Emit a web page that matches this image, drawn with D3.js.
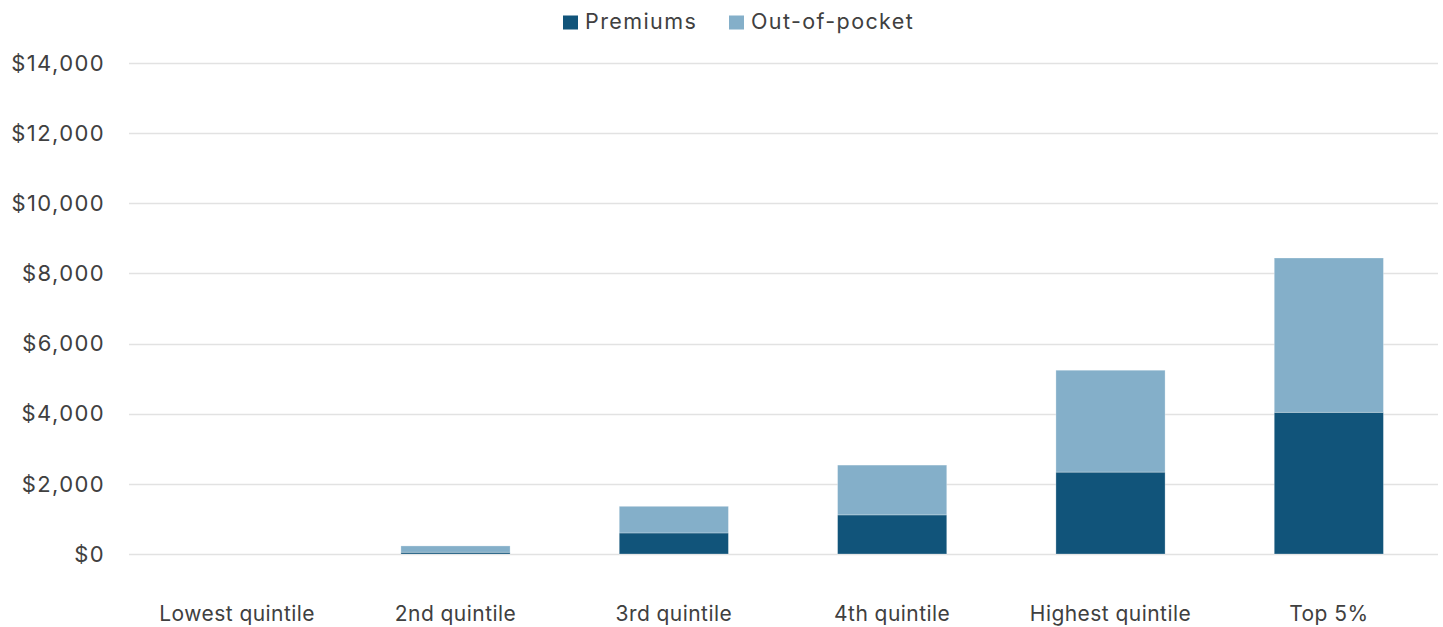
<!DOCTYPE html>
<html>
<head>
<meta charset="utf-8">
<script src="https://cdn.jsdelivr.net/npm/d3@7"></script>
<style>
    body { margin: 0; background: #fff; }
    text { font-family: Inter, "Liberation Sans", sans-serif; fill: #404040; }
</style>
</head>
<body>
<script>
// Chart data
var categories = ["Lowest quintile", "2nd quintile", "3rd quintile", "4th quintile", "Highest quintile", "Top 5%"];
var premiums = [0, 50, 600, 1115, 2335, 4040];
var outOfPocket = [0, 180, 760, 1420, 2905, 4400];
var yTicks = [0, 2000, 4000, 6000, 8000, 10000, 12000, 14000];
var seriesNames = ["Premiums", "Out-of-pocket"];
var seriesColors = ["#11547a", "#84afc9"];

var width = 1443;
var height = 627;
var margin = { top: 63, right: 5, bottom: 73, left: 128 };

var svg = d3.select("body")
    .append("svg")
    .attr("width", width)
    .attr("height", height);

// Scales
var x = d3.scaleBand()
    .domain(categories)
    .range([margin.left, width - margin.right])
    .paddingInner(0.5)
    .paddingOuter(0.25);

var y = d3.scaleLinear()
    .domain([0, 14000])
    .range([height - margin.bottom, margin.top]);

// Gridlines
svg.append("g")
    .selectAll("line")
    .data(yTicks)
    .enter()
    .append("line")
    .attr("x1", margin.left + 1)
    .attr("x2", width - margin.right)
    .attr("y1", function (d) { return Math.round(y(d)) + 0.5; })
    .attr("y2", function (d) { return Math.round(y(d)) + 0.5; })
    .attr("stroke", "#e2e2e2")
    .attr("stroke-width", 1.5);

// Y axis labels
var yAxis = d3.axisLeft(y)
    .tickValues(yTicks)
    .tickSize(0)
    .tickPadding(0)
    .tickFormat(function (d) { return "$" + d3.format(",")(d); });

svg.append("g")
    .attr("transform", "translate(105,0)")
    .call(yAxis)
    .call(function (g) { g.select(".domain").remove(); })
    .selectAll("text")
    .style("font-size", "22px")
    .style("letter-spacing", "1.4px")
    .attr("dy", "0.33em");

// X axis labels
var xAxis = d3.axisBottom(x).tickSize(0).tickPadding(0);
svg.append("g")
    .attr("transform", "translate(0,621)")
    .call(xAxis)
    .call(function (g) { g.select(".domain").remove(); })
    .selectAll("text")
    .attr("dy", 0)
    .style("font-size", "21px")
    .style("letter-spacing", "0.45px");

// Stacked bars
var rows = categories.map(function (c, i) {
    return { category: c, Premiums: premiums[i], "Out-of-pocket": outOfPocket[i] };
});
var stack = d3.stack().keys(seriesNames)(rows);

svg.append("g")
    .selectAll("g")
    .data(stack)
    .enter()
    .append("g")
    .attr("fill", function (d, i) { return seriesColors[i]; })
    .selectAll("rect")
    .data(function (d) { return d; })
    .enter()
    .append("rect")
    .attr("x", function (d) { return x(d.data.category); })
    .attr("width", x.bandwidth())
    .attr("y", function (d) { return y(d[1]); })
    .attr("height", function (d) { return y(d[0]) - y(d[1]); })
    .attr("stroke", "#ffffff")
    .attr("stroke-opacity", 0.35)
    .attr("stroke-width", 0.8);

// Legend
var legendItems = [
    { name: seriesNames[0], color: seriesColors[0], x: 563 },
    { name: seriesNames[1], color: seriesColors[1], x: 729 }
];
var legend = svg.append("g");
legendItems.forEach(function (item) {
    legend.append("rect")
        .attr("x", item.x)
        .attr("y", 15.5)
        .attr("width", 15)
        .attr("height", 14)
        .attr("fill", item.color);
    legend.append("text")
        .attr("x", item.x + 22)
        .attr("y", 28.5)
        .style("font-size", "21.5px")
        .style("letter-spacing", "1.4px")
        .text(item.name);
});
</script>
</body>
</html>
